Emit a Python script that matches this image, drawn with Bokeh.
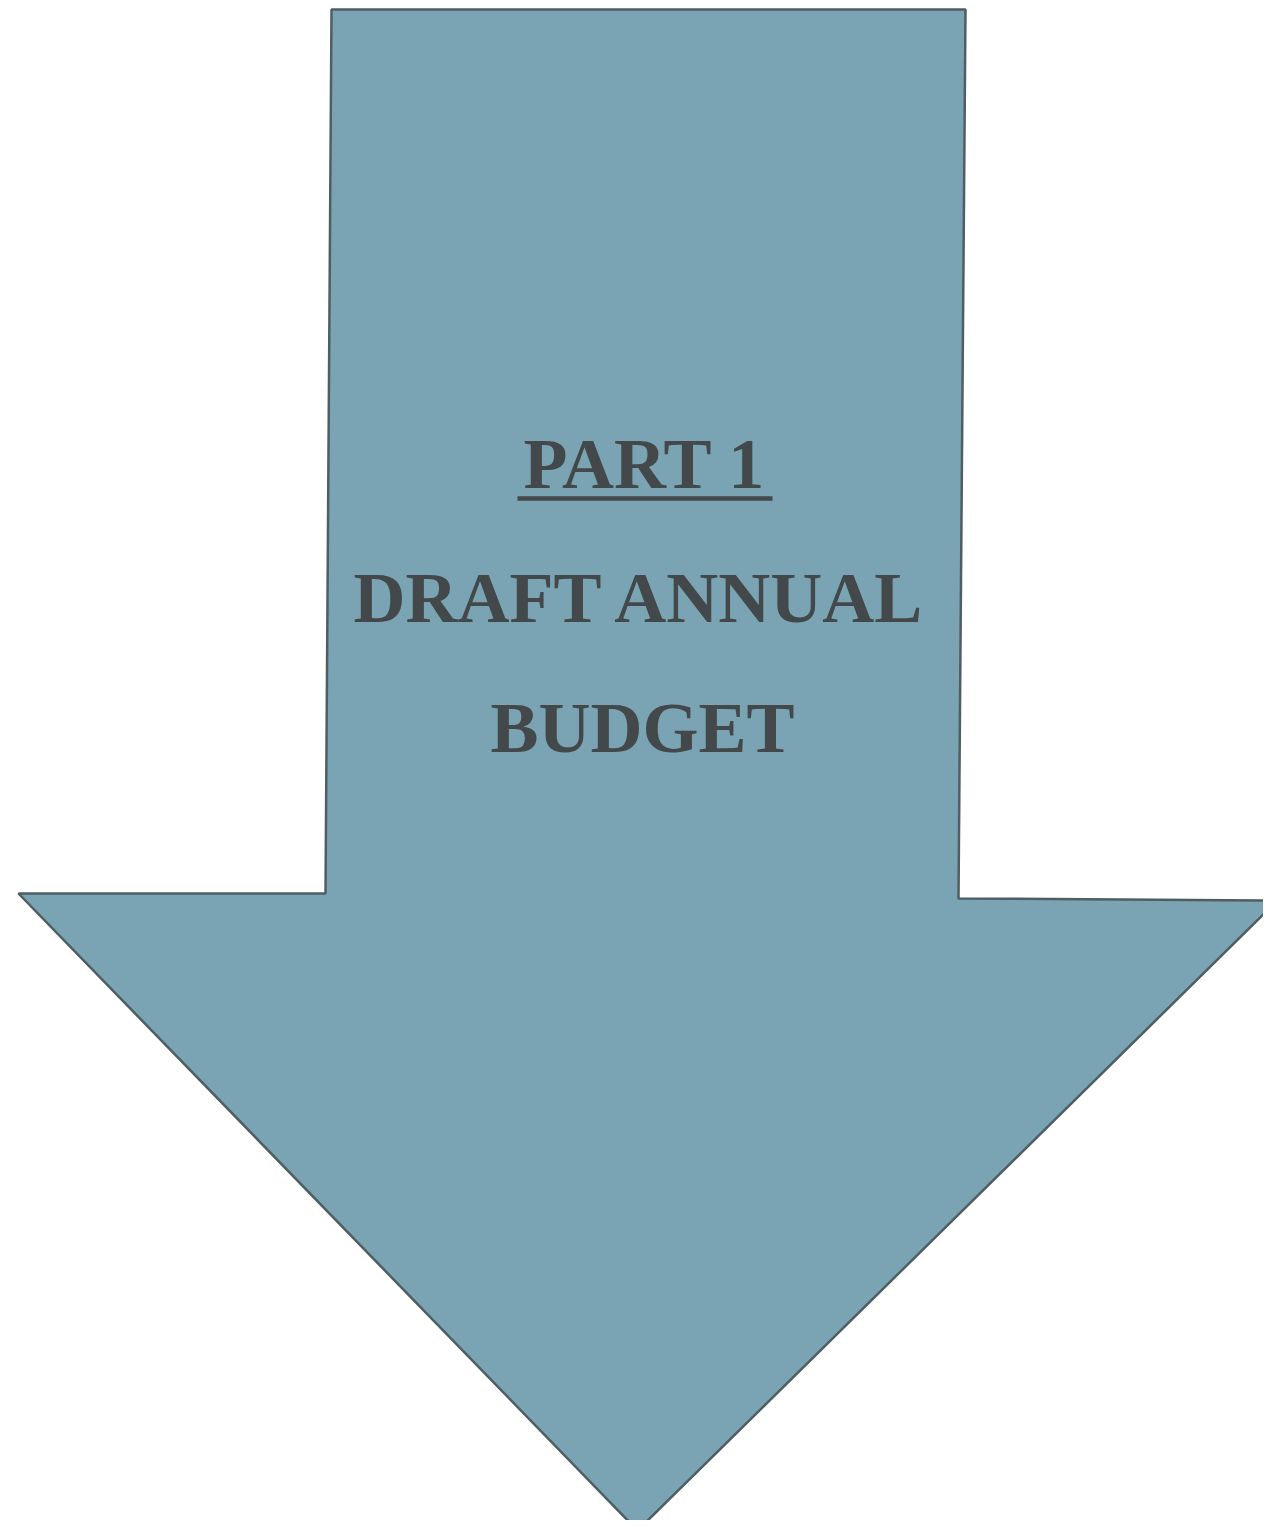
from bokeh.plotting import figure
from bokeh.models import Range1d, ColumnDataSource
from bokeh.core.properties import value
from bokeh.embed import file_html
from bokeh.resources import INLINE

# Arrow outline vertices (picture-pixel coordinates, y grows downward)
arrow_x = [331, 965, 958, 1277, 637, 18, 325]
arrow_y = [9, 9, 898, 900, 1530, 893, 893]

# Text labels
labels = ["PART 1", "DRAFT ANNUAL", "BUDGET"]
label_x = [644, 640, 642]
label_y = [463, 597, 727]

# Underline under the heading
underline_x = [517, 772]
underline_y = [498, 498]

W, H = 1263, 1520
p = figure(width=W, height=H, output_backend="svg", toolbar_location=None,
           x_range=Range1d(0, W), y_range=Range1d(H, 0),
           min_border=0)
p.axis.visible = False
p.grid.visible = False
p.outline_line_color = None
p.background_fill_color = "white"
p.border_fill_color = "white"

p.patch(arrow_x, arrow_y, fill_color="#7aa4b3", line_color="#4f5e63", line_width=2.5)

src = ColumnDataSource(dict(x=label_x, y=label_y, t=labels))
p.text(x="x", y="y", text="t", source=src, text_font=value("Liberation Serif"),
       text_font_style="bold", text_font_size="72px", text_color="#43494a",
       text_align="center", text_baseline="alphabetic")

p.line(underline_x, underline_y, line_color="#43494a", line_width=4.5)

open("out.html", "w").write(file_html(p, INLINE))
